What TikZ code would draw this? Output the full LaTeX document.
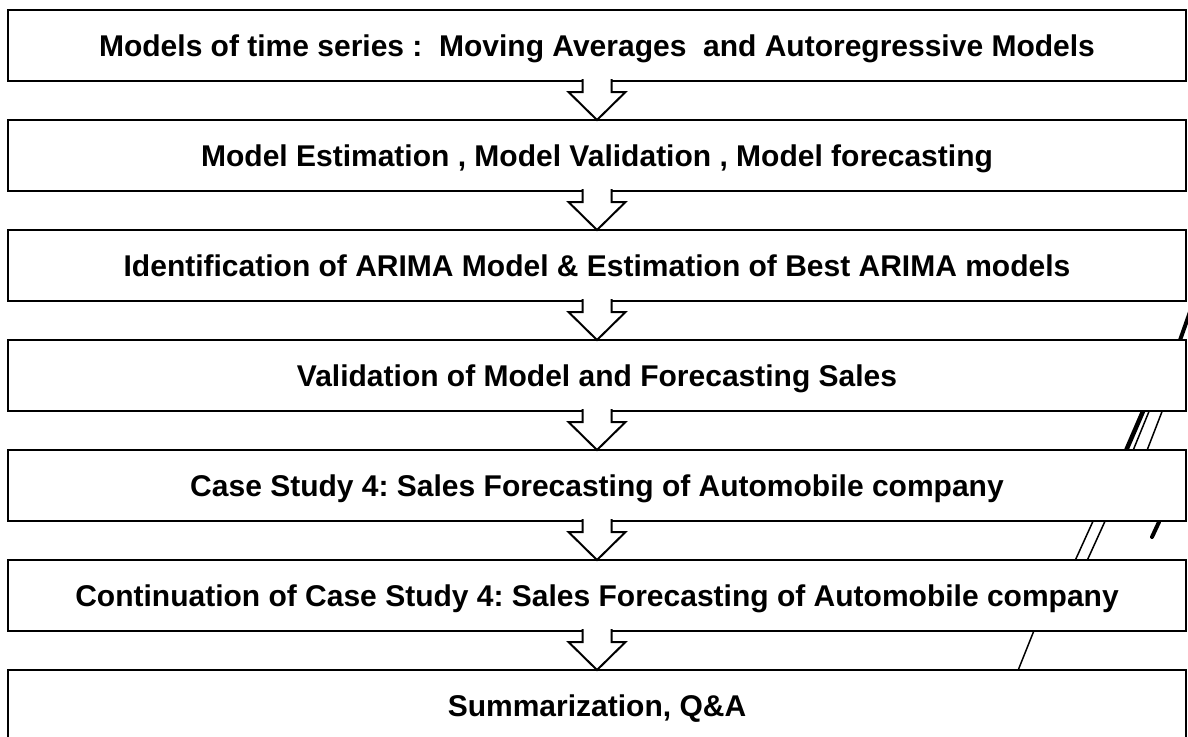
\documentclass[tikz,border=0pt]{standalone}
\usepackage{fontspec}
\setmainfont{Liberation Sans}
\frenchspacing

\begin{document}
\begin{tikzpicture}[x=1pt, y=-1pt,
    stage/.style={draw, line width=2.5pt, fill=white, outer sep=0pt, inner sep=0pt,
        minimum width=1178pt, minimum height=71pt, text height=21.5pt, text depth=0pt,
        font=\fontsize{30}{36}\selectfont\bfseries},
    downarrow/.style={draw, line width=2pt, fill=white, line join=miter}]
    \useasboundingbox (0,0) rectangle (1188,736);

    % pen strokes at the right edge, behind the boxes
    \draw[line width=4pt] (1191,309) -- (1179,343);
    \draw[line width=4.5pt] (1144,409) -- (1125,453);
    \draw[line width=1.5pt] (1150,409) -- (1132,453);
    \draw[line width=1.5pt] (1163,409) -- (1146,453);
    \draw[line width=1.5pt] (1094,519) -- (1074,563);
    \draw[line width=1.5pt] (1106,519) -- (1086,563);
    \draw[line width=4pt, line cap=round] (1159,522) -- (1152,537);
    \draw[line width=1.5pt] (1035,628) -- (1017,673);

    % the seven stages
    \node[stage] (s1) at (597,45.5) {Models of time series :\ \ Moving Averages\ \ and Autoregressive Models};
    \node[stage] (s2) at (597,155.5) {Model Estimation , Model Validation , Model forecasting};
    \node[stage] (s3) at (597,265.5) {Identification of ARIMA Model \& Estimation of Best ARIMA models};
    \node[stage] (s4) at (597,375.5) {Validation of Model and Forecasting Sales};
    \node[stage] (s5) at (597,485.5) {Case Study 4: Sales Forecasting of Automobile company};
    \node[stage] (s6) at (597,595.5) {Continuation of Case Study 4: Sales Forecasting of Automobile company};
    \node[stage] (s7) at (597,705.5) {Summarization, Q\&A};

    % hollow arrows between stages
    \foreach \a/\b in {s1/s2, s2/s3, s3/s4, s4/s5, s5/s6, s6/s7} {
        \draw[downarrow] (\a.south) ++(-14.5,-2) -- ++(0,13) -- ++(-14,0) -- (\b.north)
            -- ++(28.5,-28) -- ++(-14,0) -- ++(0,-13);
    }
\end{tikzpicture}
\end{document}
